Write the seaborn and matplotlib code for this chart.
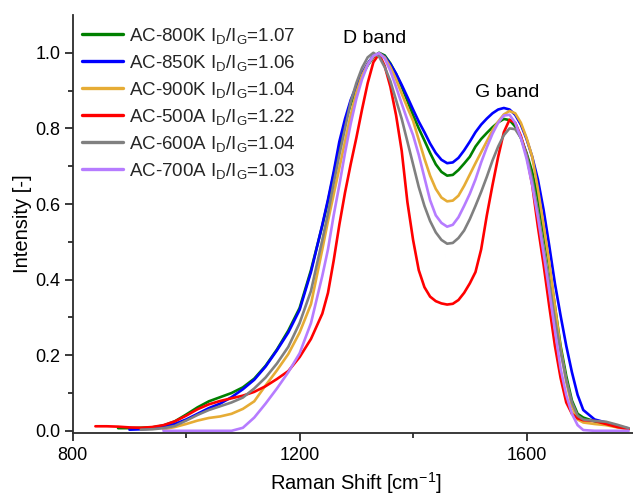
import matplotlib
matplotlib.use("Agg")
import matplotlib.pyplot as plt
from matplotlib.lines import Line2D
import numpy as np
import pandas as pd
import seaborn as sns

# Raman shift grid (cm^-1)
shift = [840, 860, 880, 900, 920, 940, 960, 980, 1000, 1020, 1040, 1060, 1080, 1100, 1120, 1140, 1160, 1180, 1200, 1220, 1240,
         1250, 1260, 1270, 1280, 1290, 1300, 1310, 1320, 1330, 1340,
         1350, 1360, 1370, 1380, 1390, 1400, 1410, 1420, 1430, 1440,
         1450, 1460, 1470, 1480, 1490, 1500, 1510, 1520, 1530, 1540,
         1550, 1560, 1570, 1580, 1590, 1600, 1610, 1620, 1630, 1640,
         1650, 1660, 1670, 1680, 1690, 1700,
         1720, 1740, 1760, 1780]

N = None
ac800k = [N, N, 0.007, 0.007, 0.008, 0.009, 0.014, 0.025, 0.043, 0.062, 0.078, 0.089, 0.100, 0.115, 0.138, 0.172, 0.215, 0.265, 0.325, 0.425, 0.543,
          0.607, 0.678, 0.752, 0.814, 0.864, 0.905, 0.940, 0.967, 0.988, 1.000,
          0.993, 0.972, 0.944, 0.910, 0.873, 0.835, 0.800, 0.768, 0.735, 0.705,
          0.685, 0.675, 0.677, 0.690, 0.707, 0.725, 0.752, 0.772, 0.788, 0.803,
          0.816, 0.825, 0.822, 0.805, 0.775, 0.735, 0.685, 0.615, 0.525, 0.435,
          0.330, 0.225, 0.145, 0.080, 0.045, 0.035,
          0.025, 0.020, 0.012, 0.005]
ac850k = [N, N, N, 0.003, 0.004, 0.006, 0.010, 0.018, 0.030, 0.045, 0.060, 0.072, 0.089, 0.110, 0.135, 0.170, 0.213, 0.260, 0.320, 0.420, 0.545,
          0.612, 0.685, 0.765, 0.825, 0.875, 0.912, 0.945, 0.972, 0.992, 0.999,
          0.990, 0.970, 0.945, 0.915, 0.883, 0.850, 0.818, 0.790, 0.760, 0.735,
          0.717, 0.708, 0.710, 0.722, 0.742, 0.765, 0.790, 0.810, 0.826, 0.840,
          0.850, 0.854, 0.850, 0.836, 0.810, 0.772, 0.725, 0.665, 0.585, 0.490,
          0.390, 0.305, 0.225, 0.155, 0.095, 0.055,
          0.030, 0.022, 0.013, 0.006]
ac900k = [N, N, N, N, N, N, 0.004, 0.010, 0.018, 0.027, 0.034, 0.038, 0.045, 0.058, 0.078, 0.120, 0.160, 0.203, 0.260, 0.335, 0.480,
          0.555, 0.625, 0.695, 0.765, 0.835, 0.895, 0.940, 0.970, 0.990, 0.999,
          0.988, 0.962, 0.930, 0.892, 0.855, 0.820, 0.770, 0.720, 0.675, 0.640,
          0.617, 0.607, 0.609, 0.622, 0.648, 0.678, 0.708, 0.737, 0.766, 0.795,
          0.818, 0.837, 0.846, 0.840, 0.815, 0.775, 0.725, 0.640, 0.545, 0.445,
          0.330, 0.218, 0.130, 0.065, 0.030, 0.022,
          0.018, 0.015, 0.009, 0.004]
ac500a = [0.012, 0.012, 0.011, 0.009, 0.008, 0.010, 0.015, 0.025, 0.040, 0.057, 0.070, 0.079, 0.086, 0.093, 0.103, 0.118, 0.137, 0.158, 0.195, 0.243, 0.310,
          0.365, 0.450, 0.545, 0.630, 0.705, 0.775, 0.850, 0.920, 0.975, 0.997,
          0.965, 0.910, 0.835, 0.740, 0.605, 0.505, 0.425, 0.380, 0.355, 0.343,
          0.337, 0.334, 0.336, 0.346, 0.365, 0.390, 0.420, 0.480, 0.570, 0.650,
          0.725, 0.790, 0.823, 0.815, 0.780, 0.730, 0.650, 0.540, 0.440, 0.330,
          0.225, 0.140, 0.075, 0.045, 0.033, 0.028,
          0.026, 0.018, 0.010, 0.005]
ac600a = [N, N, N, N, 0.003, 0.004, 0.007, 0.013, 0.027, 0.042, 0.055, 0.065, 0.075, 0.088, 0.112, 0.141, 0.178, 0.222, 0.285, 0.370, 0.505,
          0.575, 0.655, 0.730, 0.800, 0.870, 0.920, 0.960, 0.988, 1.000, 0.990,
          0.962, 0.925, 0.875, 0.825, 0.765, 0.705, 0.645, 0.595, 0.555, 0.525,
          0.505, 0.495, 0.497, 0.510, 0.530, 0.560, 0.595, 0.632, 0.672, 0.715,
          0.752, 0.782, 0.800, 0.798, 0.775, 0.730, 0.665, 0.580, 0.485, 0.390,
          0.295, 0.210, 0.135, 0.075, 0.040, 0.030,
          0.026, 0.024, 0.016, 0.007]
ac700a = [N, N, N, N, N, N, 0.0, 0.0, 0.0, 0.0, 0.0, 0.0, 0.0, 0.008, 0.035, 0.072, 0.112, 0.155, 0.205, 0.285, 0.410,
          0.480, 0.570, 0.650, 0.735, 0.812, 0.878, 0.930, 0.968, 0.992, 0.999,
          0.985, 0.952, 0.910, 0.865, 0.822, 0.782, 0.730, 0.670, 0.610, 0.570,
          0.550, 0.540, 0.545, 0.565, 0.595, 0.627, 0.665, 0.710, 0.750, 0.786,
          0.815, 0.834, 0.836, 0.815, 0.775, 0.720, 0.650, 0.565, 0.470, 0.370,
          0.265, 0.165, 0.095, 0.045, 0.015, 0.002,
          0.0, 0.0, 0.0, 0.0]

samples = ["AC-800K", "AC-850K", "AC-900K", "AC-500A", "AC-600A", "AC-700A"]
ratios = ["1.07", "1.06", "1.04", "1.22", "1.04", "1.03"]
colors = ["#008000", "#0000FF", "#E6AC35", "#FF0000", "#808080", "#B67CFF"]
series = [ac800k, ac850k, ac900k, ac500a, ac600a, ac700a]

x_ticks = [800, 1200, 1600]
x_minor = [1000, 1400]
y_ticks = [0.0, 0.2, 0.4, 0.6, 0.8, 1.0]

frames = []
for name, vals in zip(samples, series):
    frames.append(pd.DataFrame({"shift": shift, "intensity": vals, "sample": name}))
df = pd.concat(frames, ignore_index=True)
df["intensity"] = pd.to_numeric(df["intensity"])
df = df.dropna()

sns.set_theme(style="ticks")
plt.rcParams["font.family"] = ["Liberation Sans", "DejaVu Sans"]
plt.rcParams["mathtext.fontset"] = "custom"
plt.rcParams["mathtext.rm"] = "Liberation Sans"
plt.rcParams["mathtext.it"] = "Liberation Sans:italic"

fig = plt.figure(figsize=(6.33, 4.96), dpi=100)
W, H = 633, 496
left, right, top, bottom = 72.7, 640.0, 15.0, 432.7
ax = fig.add_axes([left / W, 1 - bottom / H, (right - left) / W, (bottom - top) / H])

pal = dict(zip(samples, colors))
sns.lineplot(data=df, x="shift", y="intensity", hue="sample", hue_order=samples,
             palette=pal, estimator=None, sort=False, linewidth=1.9, ax=ax, legend=False)

ax.set_xlim(800, 1800)
ax.set_ylim(-0.005, 1.1)
ax.set_xticks(x_ticks)
ax.set_xticks(x_minor, minor=True)
ax.set_xticklabels([str(t) for t in x_ticks])
ax.set_yticks(y_ticks)
ax.set_yticks([0.1, 0.3, 0.5, 0.7, 0.9], minor=True)
ax.set_yticklabels([f"{t:.1f}" for t in y_ticks])

spine_c = "#2b2b2b"
for s in ["top", "right"]:
    ax.spines[s].set_visible(False)
for s in ["left", "bottom"]:
    ax.spines[s].set_color(spine_c)
    ax.spines[s].set_linewidth(1.3)
ax.tick_params(axis="both", which="major", direction="out", length=6, width=1.3,
               color=spine_c, labelsize=13, labelcolor="black", pad=3)
ax.tick_params(axis="x", which="major", pad=4.5)
ax.tick_params(axis="both", which="minor", direction="out", length=3.5, width=1.3, color=spine_c)

ax.set_xlabel("Raman Shift [cm$^{\\mathregular{-1}}$]", fontsize=14.5, color="black", labelpad=4)
ax.set_ylabel("Intensity [-]", fontsize=14.5, color="black", labelpad=2)

ax.text(1333, 1.038, "D band", fontsize=14, ha="center", va="center", color="black")
ax.text(1566, 0.894, "G band", fontsize=14, ha="center", va="center", color="black")

handles = [Line2D([0], [0], color=c, lw=2.4) for c in colors]
labels = [f"{s} I$_{{\\mathregular{{D}}}}$/I$_{{\\mathregular{{G}}}}$={r}" for s, r in zip(samples, ratios)]
ax.legend(handles, labels, loc="upper left", bbox_to_anchor=(0.0099, 0.983), frameon=False,
          fontsize=13.5, handlelength=2.2, handletextpad=0.32, labelspacing=0.37,
          borderaxespad=0.0, borderpad=0.2)

ax.grid(False)
fig.savefig("out.png", dpi=100, facecolor="white")
